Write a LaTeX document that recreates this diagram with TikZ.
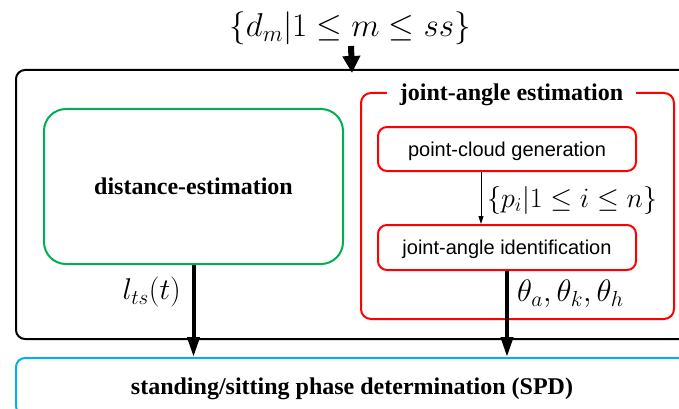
\RequirePackage{fix-cm}
\documentclass[tikz,border=0pt]{standalone}
\usepackage{fontspec}
\setmainfont{Liberation Serif}
\setsansfont{Liberation Sans}
\usetikzlibrary{arrows.meta}
\definecolor{mygreen}{RGB}{0,176,80}
\definecolor{myred}{RGB}{255,0,0}
\definecolor{myblue}{RGB}{0,176,240}
\tikzset{
  boldlabel/.style={font=\fontsize{24}{28}\selectfont\bfseries},
  sanslabel/.style={font=\fontsize{20}{24}\selectfont\sffamily, text height=16pt, text depth=2pt},
  mathlabel/.style={inner sep=0pt},
  blackbox/.style={draw=black, line width=2pt, rounded corners=9pt},
  greenbox/.style={draw=mygreen, line width=2pt, rounded corners=22pt, boldlabel},
  redbox/.style={draw=myred, line width=2pt, rounded corners=10pt},
  subbox/.style={draw=myred, line width=2pt, rounded corners=9pt, sanslabel},
  bluebox/.style={draw=myblue, line width=2pt, rounded corners=9pt, boldlabel, text height=18pt, text depth=3pt},
  bigarrow/.style={line width=4pt, -{Triangle[length=20pt,width=12pt]}},
  toparrow/.style={line width=6pt, -{Triangle[length=17pt,width=17pt]}},
  thinarrow/.style={line width=1pt, -{Triangle[length=8pt,width=5pt]}},
}
\begin{document}
\begin{tikzpicture}[x=1pt,y=-1pt]
\useasboundingbox (0,0) rectangle (679,409);
\clip (0,0) rectangle (679,409);
% outer estimation box
\node[blackbox, minimum width=672pt, minimum height=269pt] (est) at (352,204.5) {};
% input
\node[mathlabel, font=\fontsize{33}{38}\selectfont] (input) at (350,28) {$\{d_m|1\le m\le ss\}$};
\coordinate (instart) at (351,46);
\draw[toparrow] (instart) -- ([yshift=-4pt]est.north);
% distance estimation
\node[greenbox, minimum width=299pt, minimum height=155pt] (dist) at (193.5,186.5) {distance-estimation};
% joint-angle estimation
\node[redbox, minimum width=313pt, minimum height=226pt] (jae) at (517.5,206) {};
\node[boldlabel, fill=white, inner xsep=13pt, inner ysep=2pt] (jaet) at ([xshift=-6pt,yshift=-3pt]jae.north) {joint-angle estimation};
\node[subbox, minimum width=258pt, minimum height=44pt] (pcg) at (507,149) {point-cloud generation};
\node[subbox, minimum width=258pt, minimum height=45pt] (jai) at (507,247.5) {joint-angle identification};
\coordinate (cx) at (481,0);
\draw[thinarrow] (pcg.south -| cx) -- (jai.north -| cx);
\node[mathlabel, anchor=west, font=\fontsize{28}{32}\selectfont] (plab) at (487,200) {$\{p_i|1\le i\le n\}$};
% SPD
\node[bluebox, minimum width=672pt, minimum height=57pt] (spd) at (352,386.5) {standing/sitting phase determination (SPD)};
\draw[bigarrow] (dist.south) -- (dist.south |- spd.north);
\draw[bigarrow] (jai.south) -- (jai.south |- spd.north);
\node[mathlabel, anchor=east, font=\fontsize{30}{34}\selectfont] (llab) at (181,292) {$l_{ts}(t)$};
\node[mathlabel, anchor=west, font=\fontsize{31}{35}\selectfont] (tlab) at (517,294) {$\theta_a,\theta_k,\theta_h$};
\end{tikzpicture}
\end{document}
